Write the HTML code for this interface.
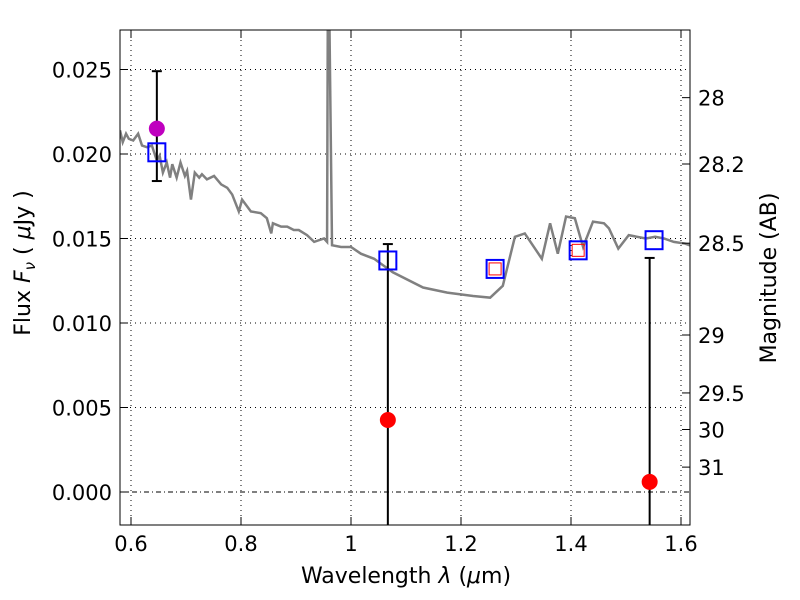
<!DOCTYPE html>
<html><head><meta charset="utf-8"><style>
html,body{margin:0;padding:0;background:#fff;width:800px;height:600px;overflow:hidden;position:relative;}
svg{display:block;}
svg text{font-family:"DejaVu Sans","Liberation Sans",sans-serif;}
</style></head><body>
<svg id="c" width="800" height="600" style="position:absolute;left:0;top:0" xmlns="http://www.w3.org/2000/svg"></svg>
<script>
const specWl=[0.58,0.585,0.591,0.596,0.604,0.613,0.62,0.629,0.638,0.647,0.652,0.658,0.665,0.671,0.675,0.683,0.69,0.698,0.702,0.709,0.716,0.724,0.729,0.738,0.751,0.764,0.775,0.784,0.796,0.802,0.818,0.836,0.847,0.855,0.858,0.873,0.884,0.896,0.905,0.92,0.933,0.951,0.9565,0.958,0.96,0.9655,0.982,1.0,1.018,1.042,1.076,1.131,1.175,1.222,1.253,1.276,1.298,1.316,1.347,1.362,1.376,1.391,1.407,1.422,1.44,1.46,1.469,1.486,1.505,1.536,1.553,1.569,1.587,1.607,1.616];
const specFlux=[0.0214,0.0207,0.0212,0.0209,0.0208,0.0212,0.0205,0.0204,0.0205,0.0196,0.0199,0.0189,0.0195,0.0186,0.0194,0.0186,0.0195,0.0187,0.0190,0.0173,0.0189,0.0186,0.0188,0.0185,0.0187,0.0182,0.0180,0.0176,0.0166,0.0173,0.0166,0.0165,0.0162,0.0153,0.0159,0.0157,0.0157,0.0155,0.0155,0.0152,0.0148,0.0150,0.0148,0.0300,0.0300,0.0146,0.0145,0.0145,0.0141,0.0138,0.0130,0.0121,0.0118,0.0116,0.0115,0.0122,0.0151,0.0153,0.0138,0.0159,0.0141,0.0163,0.0162,0.0145,0.0160,0.0159,0.0156,0.0144,0.0152,0.0150,0.0151,0.0150,0.0148,0.0147,0.0146];
const obsWl=[1.067,1.543];
const obsFlux=[0.00426,0.0006];
const obsErrHi=[0.01467,0.01385];
const optWl=[0.647];const optFlux=[0.0215];const optHi=[0.0249];const optLo=[0.0184];
const modWl=[0.647,1.067,1.262,1.413,1.551];
const modFlux=[0.0201,0.0137,0.0132,0.0143,0.0149];
const redWl=[1.262,1.413];const redFlux=[0.0132,0.0143];
const xTicks=[0.6,0.8,1.0,1.2,1.4,1.6];const xLabels=["0.6","0.8","1","1.2","1.4","1.6"];
const yTicks=[0,0.005,0.01,0.015,0.02,0.025];const yLabels=["0.000","0.005","0.010","0.015","0.020","0.025"];
const magTicks=[28,28.2,28.5,29,29.5,30,31];const magLabels=["28","28.2","28.5","29","29.5","30","31"];

const L=120,R=690,T=30,B=525;
const X=w=>131+(w-0.6)*550;
const Y=f=>492-f*16900;
const svg=document.getElementById('c');
const NS="http://www.w3.org/2000/svg";
function mk(t,a,p){const e=document.createElementNS(NS,t);for(const k in a)e.setAttribute(k,a[k]);(p||svg).appendChild(e);return e;}
const defs=mk('defs',{});const cp=mk('clipPath',{id:'pc'},defs);mk('rect',{x:L,y:T,width:R-L,height:B-T},cp);
xTicks.forEach(v=>{const g=mk('line',{x1:X(v),x2:X(v),y1:T,y2:B,stroke:'#000','stroke-width':1,'stroke-dasharray':'1,4'});
});
yTicks.forEach(v=>{if(v===0)return;const g=mk('line',{x1:L,x2:R,y1:Y(v),y2:Y(v),stroke:'#000','stroke-width':1,'stroke-dasharray':'1,4'});
});
const z=mk('line',{x1:L,x2:R,y1:Y(0),y2:Y(0),stroke:'#000','stroke-width':1,'stroke-dasharray':'5,3,1,3'});

const pg=mk('g',{'clip-path':'url(#pc)'});
const sp=mk('polyline',{points:specWl.map((w,i)=>X(w)+','+Y(specFlux[i])).join(' '),fill:'none',stroke:'#808080','stroke-width':2.5},pg);

function eb(w,hi,lo,name){const x=X(w);const l=mk('line',{x1:x,x2:x,y1:Y(hi),y2:Y(lo),stroke:'#000','stroke-width':2},pg);

[hi,lo].forEach(v=>{const c=mk('line',{x1:x-5,x2:x+5,y1:Y(v),y2:Y(v),stroke:'#000','stroke-width':2},pg);
});}
optWl.forEach((w,i)=>eb(w,optHi[i],optLo[i],'optical-error-bar'));
obsWl.forEach((w,i)=>eb(w,obsErrHi[i],-0.01,'nir-error-bar'));
optWl.forEach((w,i)=>{const c=mk('circle',{cx:X(w),cy:Y(optFlux[i]),r:8,fill:'#bf00bf'},pg);
});
modWl.forEach((w,i)=>{const s=mk('rect',{x:X(w)-8.5,y:Y(modFlux[i])-9,width:17,height:18,fill:'none',stroke:'#0000ff','stroke-width':2},pg);
});
redWl.forEach((w,i)=>{const s=mk('rect',{x:X(w)-6,y:Y(redFlux[i])-6,width:12,height:12,fill:'none',stroke:'#ff0000','stroke-width':1},pg);
});
obsWl.forEach((w,i)=>{const c=mk('circle',{cx:X(w),cy:Y(obsFlux[i]),r:8,fill:'#ff0000'},pg);
});
const fr=mk('rect',{x:L,y:T,width:R-L,height:B-T,fill:'none',stroke:'#000','stroke-width':1});

xTicks.forEach((v,i)=>{mk('line',{x1:X(v),x2:X(v),y1:B,y2:B-8,stroke:'#000'});mk('line',{x1:X(v),x2:X(v),y1:T,y2:T+8,stroke:'#000'});
const t=mk('text',{x:X(v),y:551,'font-size':21,'text-anchor':'middle'});t.textContent=xLabels[i];
});
yTicks.forEach((v,i)=>{mk('line',{x1:L,x2:L+8,y1:Y(v),y2:Y(v),stroke:'#000'});
const t=mk('text',{x:112,y:Y(v)+8,'font-size':21,'text-anchor':'end'});t.textContent=yLabels[i];
});
magTicks.forEach((m,i)=>{const y=Y(Math.pow(10,(23.92-m)/2.5));mk('line',{x1:R,x2:R-8,y1:y,y2:y,stroke:'#000'});
const t=mk('text',{x:698,y:y+8,'font-size':21});t.textContent=magLabels[i];
});
</script>
<svg width="800" height="600" style="position:absolute;left:0;top:0">
<text x="406" y="583" font-size="22" text-anchor="middle" font-family="DejaVu Sans,sans-serif">Wavelength  <tspan font-style="italic">λ</tspan> (<tspan font-style="italic">μ</tspan>m)</text>
<text transform="translate(30,263) rotate(-90)" font-size="22" text-anchor="middle" font-family="DejaVu Sans,sans-serif">Flux  <tspan font-style="italic">F</tspan><tspan font-style="italic" font-size="15" dy="5">ν</tspan><tspan dy="-5">   ( </tspan><tspan font-style="italic">μ</tspan>Jy )</text>
<text transform="translate(776,278) rotate(-90)" font-size="22" text-anchor="middle" font-family="DejaVu Sans,sans-serif">Magnitude (AB)</text>
</svg>
</body></html>
